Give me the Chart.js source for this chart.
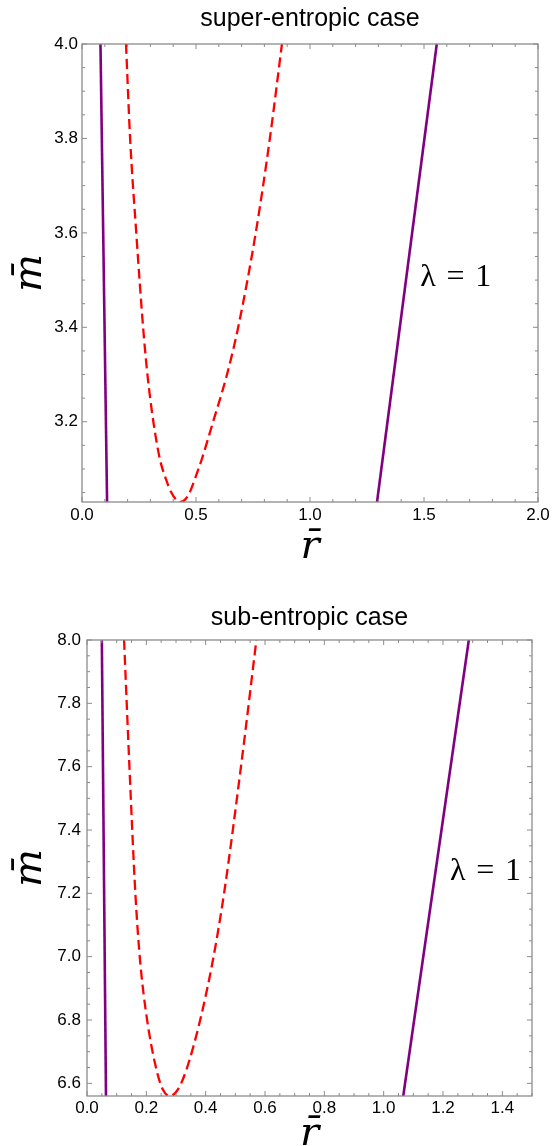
<!DOCTYPE html>
<html>
<head>
<meta charset="utf-8">
<script src="https://cdn.jsdelivr.net/npm/chart.js@4.4.1/dist/chart.umd.min.js"></script>
<style>
  html, body { margin: 0; padding: 0; background: #fff; overflow: hidden; width: 554px; height: 1146px; }
  canvas { position: absolute; left: 0; }
  #chartSuper { top: 0; }
  #chartSub { top: 573px; }
</style>
</head>
<body>
<canvas id="chartSuper" width="554" height="573"></canvas>
<canvas id="chartSub" width="554" height="600"></canvas>
<script>
/* =========================================================
   m̄ vs r̄ curves (super / sub entropic), Chart.js
   ========================================================= */

// 1. Data: super-entropic case
const superXTicks = [0, 0.5, 1.0, 1.5, 2.0];
const superYTicks = [3.2, 3.4, 3.6, 3.8, 4.0];
const superPurpleLeftR = [0.081, 0.110];
const superPurpleLeftM = [4.0, 3.03];
const superPurpleRightR = [1.294, 1.556];
const superPurpleRightM = [3.03, 4.0];
const superDashR = [0.193, 0.211, 0.238, 0.268, 0.287, 0.313, 0.342, 0.367, 0.392, 0.413, 0.433, 0.452, 0.472, 0.496, 0.525, 0.575, 0.636, 0.685, 0.762, 0.824, 0.877];
const superDashM = [4.0, 3.8, 3.6, 3.4, 3.3, 3.2, 3.12, 3.08, 3.05, 3.035, 3.03, 3.035, 3.05, 3.08, 3.12, 3.2, 3.3, 3.4, 3.6, 3.8, 4.0];

// 2. Data: sub-entropic case
const subXTicks = [0, 0.2, 0.4, 0.6, 0.8, 1.0, 1.2, 1.4];
const subYTicks = [6.6, 6.8, 7.0, 7.2, 7.4, 7.6, 7.8, 8.0];
const subPurpleLeftR = [0.050, 0.064];
const subPurpleLeftM = [8.0, 6.56];
const subPurpleRightR = [1.066, 1.287];
const subPurpleRightM = [6.56, 8.0];
const subDashR = [0.125, 0.143, 0.163, 0.179, 0.203, 0.235, 0.256, 0.280, 0.306, 0.334, 0.381, 0.424, 0.462, 0.519, 0.571];
const subDashM = [8.0, 7.6, 7.2, 6.987, 6.798, 6.64, 6.58, 6.56, 6.58, 6.64, 6.798, 6.987, 7.2, 7.6, 8.0];

// 3. Styles
const PURPLE = '#800080';
const RED = '#ff0000';
const FRAME = '#8c8c8c';
const SANS = '"Liberation Sans", Arial, Helvetica, sans-serif';
const SERIF = '"Liberation Serif", "Times New Roman", serif';
const MATH = '"DejaVu Serif", serif';

function toPoints(xs, ys) {
    return xs.map((x, i) => ({ x: x, y: ys[i] }));
}

function lineSet(xs, ys, color, dash) {
    return {
        data: toPoints(xs, ys),
        showLine: true,
        borderColor: color,
        borderWidth: dash ? 2.3 : 2.6,
        borderDash: dash || [],
        pointRadius: 0,
        pointHoverRadius: 0,
        fill: false,
        cubicInterpolationMode: dash ? 'monotone' : 'default',
        tension: 0,
        clip: 0
    };
}

/**
 * Frame with inward ticks on all four sides (Mathematica style)
 */
const framePlugin = {
    id: 'marco',
    afterDatasetsDraw(chart, args, opts) {
        const { ctx, chartArea: a, scales } = chart;
        ctx.save();
        ctx.strokeStyle = FRAME;
        ctx.lineWidth = 1;
        ctx.beginPath();

        const marks = (scale, step) => {
            const majors = scale.ticks.map(t => t.value);
            const n0 = Math.ceil(scale.min / step - 1e-6);
            const n1 = Math.floor(scale.max / step + 1e-6);
            for (let n = n0; n <= n1; n++) {
                const v = n * step;
                const isMajor = majors.some(m => Math.abs(m - v) < step / 10);
                const len = isMajor ? 5 : 3;
                const p = scale.getPixelForValue(v);
                if (scale.isHorizontal()) {
                    ctx.moveTo(p, a.bottom); ctx.lineTo(p, a.bottom - len);
                    ctx.moveTo(p, a.top); ctx.lineTo(p, a.top + len);
                } else {
                    ctx.moveTo(a.left, p); ctx.lineTo(a.left + len, p);
                    ctx.moveTo(a.right, p); ctx.lineTo(a.right - len, p);
                }
            }
        };
        marks(scales.x, opts.xStep);
        marks(scales.y, opts.yStep);
        ctx.stroke();

        ctx.lineWidth = 1.3;
        ctx.strokeRect(a.left, a.top, a.right - a.left, a.bottom - a.top);
        ctx.restore();
    }
};

/**
 * Text label placed in data coordinates
 */
const labelPlugin = {
    id: 'etiqueta',
    afterDatasetsDraw(chart, args, opts) {
        const { ctx, scales } = chart;
        ctx.save();
        ctx.fillStyle = '#000';
        ctx.font = '32px ' + SERIF;
        ctx.textAlign = 'center';
        ctx.textBaseline = 'middle';
        ctx.fillText(opts.text, scales.x.getPixelForValue(opts.x), scales.y.getPixelForValue(opts.y));
        ctx.restore();
    }
};

function makeChart(id, cfg) {
    const canvas = document.getElementById(id);
    if (!canvas) return null;

    return new Chart(canvas.getContext('2d'), {
        type: 'scatter',
        data: { datasets: cfg.datasets },
        options: {
            responsive: false,
            animation: false,
            events: [],
            layout: { padding: { left: 0, right: cfg.padRight, top: 0, bottom: 0 } },
            plugins: {
                legend: { display: false },
                tooltip: { enabled: false },
                title: {
                    display: true,
                    fullSize: false,
                    text: cfg.title,
                    color: '#000',
                    font: { family: SANS, size: 25, weight: 'normal' },
                    padding: cfg.titlePad
                },
                marco: { xStep: cfg.xStep, yStep: cfg.yStep },
                etiqueta: cfg.label
            },
            scales: {
                x: {
                    type: 'linear',
                    min: cfg.xMin, max: cfg.xMax,
                    grid: { display: false, drawTicks: false },
                    border: { display: false },
                    afterBuildTicks: (s) => { s.ticks = cfg.xTicks.map(v => ({ value: v })); },
                    afterFit: (s) => { s.height = cfg.xHeight; },
                    ticks: {
                        padding: cfg.xTickPad,
                        color: '#000',
                        font: { family: SANS, size: 17 },
                        maxRotation: 0,
                        autoSkip: false,
                        callback: (v) => Number(v).toFixed(1)
                    },
                    title: {
                        display: true,
                        text: 'r\u0304',
                        color: '#000',
                        font: { family: MATH, style: 'italic', size: 40 },
                        padding: { top: 0, bottom: cfg.xTitlePad }
                    }
                },
                y: {
                    type: 'linear',
                    min: cfg.yMin, max: cfg.yMax,
                    grid: { display: false, drawTicks: false },
                    border: { display: false },
                    afterBuildTicks: (s) => { s.ticks = cfg.yTicks.map(v => ({ value: v })); },
                    afterFit: (s) => { s.width = cfg.yWidth; },
                    ticks: {
                        padding: cfg.yTickPad,
                        color: '#000',
                        font: { family: SANS, size: 17 },
                        autoSkip: false,
                        callback: (v) => Number(v).toFixed(1)
                    },
                    title: {
                        display: true,
                        text: 'm\u0304',
                        color: '#000',
                        font: { family: MATH, style: 'italic', size: 40 },
                        padding: { top: 7, bottom: 0 }
                    }
                }
            }
        },
        plugins: [framePlugin, labelPlugin]
    });
}

// 4. Render
makeChart('chartSuper', {
    title: 'super-entropic case',
    titlePad: { top: 4.3, bottom: 9.7 },
    padRight: 16,
    xMin: 0, xMax: 2.0, yMin: 3.03, yMax: 4.0,
    xTicks: superXTicks, yTicks: superYTicks,
    xStep: 0.1, yStep: 0.05,
    xHeight: 71, yWidth: 82,
    xTickPad: 3, yTickPad: 4, xTitlePad: 1,
    label: { text: '\u03bb\u2004=\u20041', x: 1.639, y: 3.505 },
    datasets: [
        lineSet(superPurpleLeftR, superPurpleLeftM, PURPLE),
        lineSet(superPurpleRightR, superPurpleRightM, PURPLE),
        lineSet(superDashR, superDashM, RED, [10, 5])
    ]
});

makeChart('chartSub', {
    title: 'sub-entropic case',
    titlePad: { top: 29.7, bottom: 7.3 },
    padRight: 22,
    xMin: 0, xMax: 1.5, yMin: 6.56, yMax: 8.0,
    xTicks: subXTicks, yTicks: subYTicks,
    xStep: 0.05, yStep: 0.05,
    xHeight: 77, yWidth: 87,
    xTickPad: 2, yTickPad: 6, xTitlePad: 14,
    label: { text: '\u03bb\u2004=\u20041', x: 1.343, y: 7.27 },
    datasets: [
        lineSet(subPurpleLeftR, subPurpleLeftM, PURPLE),
        lineSet(subPurpleRightR, subPurpleRightM, PURPLE),
        lineSet(subDashR, subDashM, RED, [10, 5])
    ]
});
</script>
</body>
</html>
